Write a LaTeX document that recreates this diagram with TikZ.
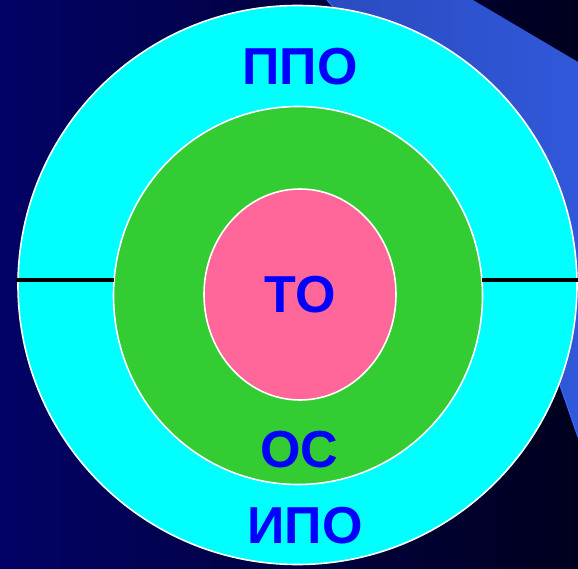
\documentclass[tikz,border=0pt]{standalone}
\usepackage{fontspec}
\setmainfont{Liberation Sans}
\usetikzlibrary{shapes.geometric}
\definecolor{bgleft}{HTML}{020266}
\definecolor{bgright}{HTML}{00001E}
\definecolor{stripeL}{HTML}{2A4BC0}
\definecolor{stripeR}{HTML}{3158DA}
\definecolor{stripeEdge}{HTML}{3366FF}
\definecolor{ringcyan}{HTML}{00FFFF}
\definecolor{ringgreen}{HTML}{33CC33}
\definecolor{ringpink}{HTML}{FF6699}
\definecolor{labelblue}{HTML}{0000FF}
\tikzset{
  ring/.style={draw=white, line width=1.6pt, inner sep=0pt},
  lbl/.style={text=labelblue, font=\fontsize{52}{52}\selectfont\bfseries, inner sep=0pt, anchor=center},
  divider/.style={draw=black, line width=3.6pt}
}
\begin{document}
\begin{tikzpicture}[x=1pt,y=-1pt]
\useasboundingbox (0,0) rectangle (578,569);
% background
\shade[left color=bgleft, right color=bgright] (0,0) rectangle (578,569);
% stripe
\shade[left color=stripeL, right color=stripeR]
  (327,0) -- (473,0) -- (578,62) -- (578,437) .. controls (488,178) .. (327,0) -- cycle;
\draw[stripeEdge, line width=1.2pt] (578,437) .. controls (488,178) .. (327,0);
% rings
\node[ring, circle, fill=ringcyan, minimum size=559pt] (outer) at (297.5,285) {};
\node[ring, ellipse, fill=ringgreen, minimum width=369pt, minimum height=378pt] (middle) at (298,295.5) {};
\node[ring, ellipse, fill=ringpink, minimum width=192pt, minimum height=211pt] (inner) at (300,294.5) {};
% dividers
\coordinate (dl1) at (16,280);
\coordinate (dl2) at (114,280);
\coordinate (dr1) at (482,280);
\coordinate (dr2) at (578,280);
\draw[divider] (dl1) -- (dl2);
\draw[divider] (dr1) -- (dr2);
% labels
\node[lbl] (ppo) at (300,66.5) {ППО};
\node[lbl] (to) at (300,294.5) {ТО};
\node[lbl] (os) at (299.5,450) {ОС};
\node[lbl] (ipo) at (305,526) {ИПО};
\end{tikzpicture}
\end{document}
